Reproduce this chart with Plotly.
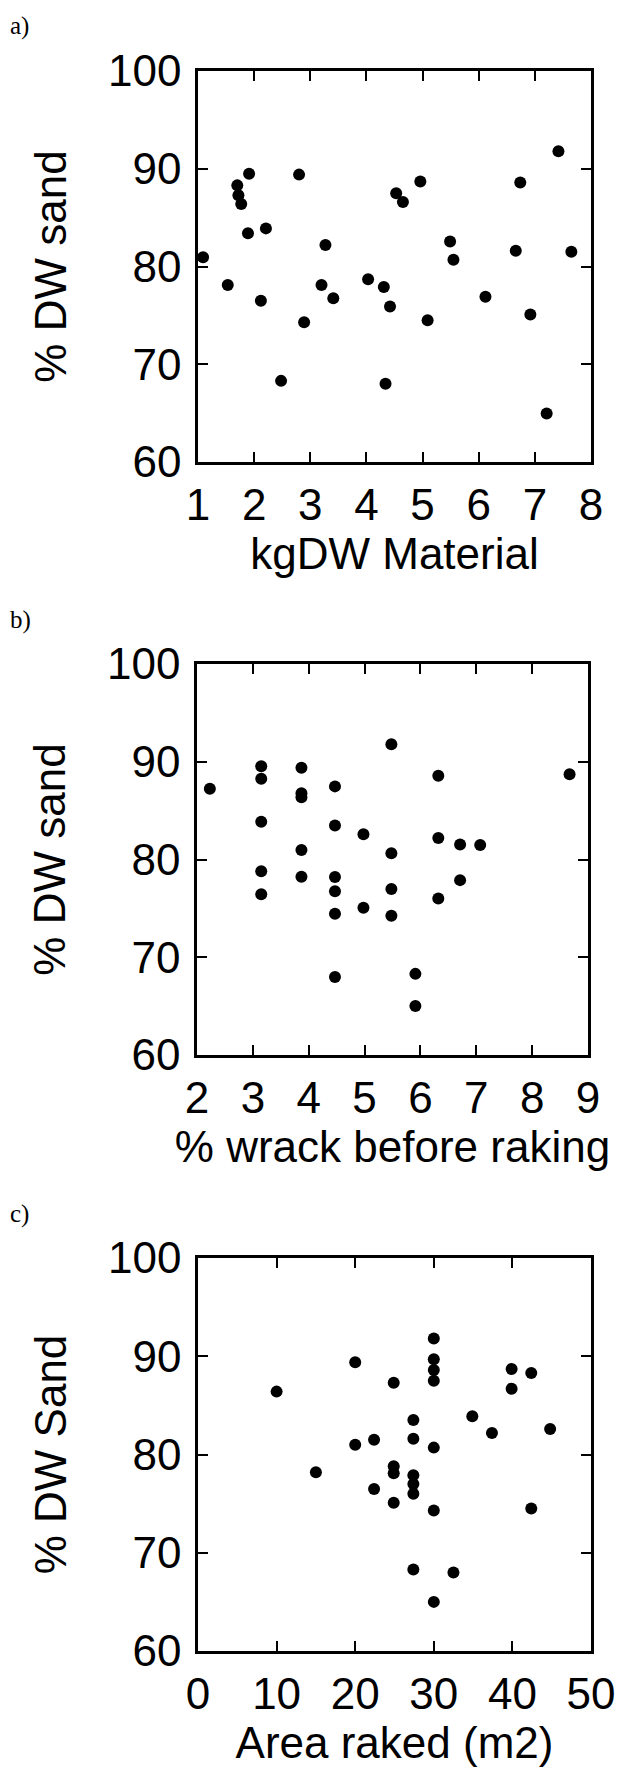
import plotly.graph_objects as go

# Panel a: kgDW Material vs % DW sand
a_x = [1.09, 1.53, 1.70, 1.72, 1.77, 1.91, 1.89, 2.21, 2.12, 2.48, 2.80, 2.89, 3.20, 3.27, 3.41, 4.03,
       4.31, 4.34, 4.42, 4.53, 4.65, 4.96, 5.09, 5.49, 5.55, 6.12, 6.66, 6.74, 6.92, 7.21, 7.42, 7.65]
a_y = [80.95, 78.1, 88.3, 87.3, 86.4, 89.5, 83.4, 83.9, 76.5, 68.3, 89.4, 74.3, 78.1, 82.2, 76.75, 78.7,
       77.9, 68.0, 75.9, 87.5, 86.6, 88.7, 74.5, 82.55, 80.7, 76.9, 81.6, 88.6, 75.1, 64.95, 91.8, 81.5]

# Panel b: % wrack before raking vs % DW sand
b_x = [2.23, 3.15, 3.15, 3.15, 3.15, 3.15, 3.87, 3.87, 3.87, 3.87, 3.87, 4.47, 4.47, 4.47, 4.47, 4.47,
       4.47, 4.98, 4.98, 5.48, 5.48, 5.48, 5.48, 5.91, 5.91, 6.32, 6.32, 6.32, 6.71, 6.71, 7.07, 8.67]
b_y = [87.24, 89.55, 88.26, 83.87, 78.79, 76.44, 89.39, 86.77, 86.38, 80.98, 78.24, 87.48, 83.48, 78.2, 76.75, 74.44,
       67.98, 82.58, 75.07, 91.78, 80.63, 76.99, 74.25, 68.3, 65.01, 88.57, 82.19, 76.0, 81.53, 77.89, 81.49, 88.73]

# Panel c: Area raked (m2) vs % DW Sand
c_x = [10.0, 15.0, 20.0, 20.0, 22.4, 22.4, 24.9, 24.9, 24.9, 24.9, 27.4, 27.4, 27.4, 27.4, 27.4, 27.4,
       30.0, 30.0, 30.0, 30.0, 30.0, 30.0, 30.0, 32.5, 34.9, 37.4, 39.9, 39.9, 42.4, 42.4, 44.8]
c_y = [86.4, 78.2, 89.4, 81.0, 81.5, 76.5, 87.3, 78.8, 78.1, 75.1, 83.5, 81.6, 77.9, 77.0, 76.0, 68.3,
       91.8, 89.7, 88.6, 87.5, 80.7, 74.3, 65.0, 68.0, 83.9, 82.2, 88.7, 86.7, 88.3, 74.5, 82.6]

panel_labels = ["a)", "b)", "c)"]
x_titles = ["kgDW Material", "% wrack before raking", "Area raked (m2)"]
y_titles = ["% DW sand", "% DW sand", "% DW Sand"]
x_ranges = [[1, 8], [2, 9], [0, 50]]
x_dticks = [1, 1, 10]
y_range = [60, 100]

W, H = 622, 1778
# pixel boxes (left, right, top, bottom)
boxes = [(198, 591, 71, 462), (197, 588, 664, 1055), (198, 591, 1258, 1651)]
label_tops = [10, 604, 1198]

FONT = "Liberation Sans, Arial, sans-serif"
fig = go.Figure()
series = [(a_x, a_y), (b_x, b_y), (c_x, c_y)]
for i, (xs, ys) in enumerate(series):
    n = "" if i == 0 else str(i + 1)
    fig.add_trace(go.Scatter(x=xs, y=ys, mode="markers", xaxis="x" + n, yaxis="y" + n,
                             marker=dict(size=12, color="black", line=dict(width=0)),
                             showlegend=False, cliponaxis=False))
    l, r, t, b = boxes[i]
    common = dict(showline=True, linecolor="black", linewidth=2.5, mirror="ticks",
                  ticks="inside", ticklen=10, tickwidth=2, tickcolor="black",
                  showgrid=False, zeroline=False, automargin=False,
                  tickfont=dict(family=FONT, size=44, color="black"),
                  title_font=dict(family=FONT, size=44, color="black"))
    fig.layout["xaxis" + n] = dict(domain=[l / W, r / W], anchor="y" + n, range=x_ranges[i],
                                   dtick=x_dticks[i], tick0=0, ticklabelstandoff=2,
                                   title=dict(text=x_titles[i], standoff=10), **common)
    fig.layout["yaxis" + n] = dict(domain=[1 - b / H, 1 - t / H], anchor="x" + n, range=y_range,
                                   dtick=10, ticklabelstandoff=5,
                                   title=dict(text=y_titles[i], standoff=28), **common)
    fig.add_annotation(text=panel_labels[i], xref="paper", yref="paper", x=8 / W,
                       y=1 - label_tops[i] / H, xanchor="left", yanchor="top", showarrow=False,
                       font=dict(family="Liberation Serif, Times New Roman, serif", size=25, color="black"))

fig.update_layout(template="none", width=W, height=H, margin=dict(l=0, r=0, t=0, b=0),
                  paper_bgcolor="white", plot_bgcolor="white")
fig.write_html("out.html")
